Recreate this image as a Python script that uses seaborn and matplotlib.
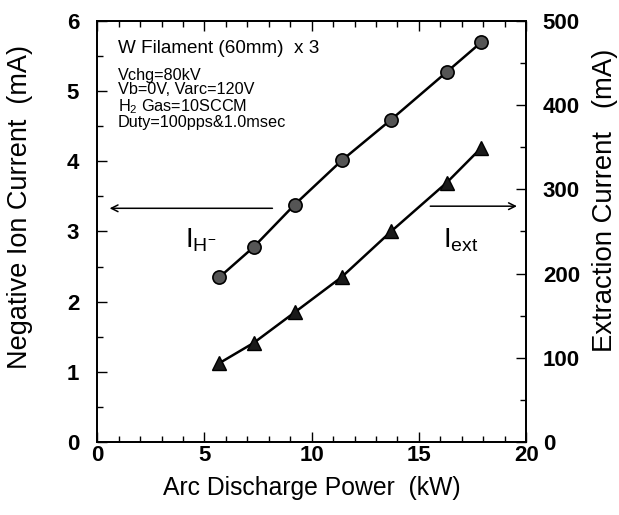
import seaborn as sns
import pandas as pd
import matplotlib.pyplot as plt
from matplotlib.ticker import MultipleLocator

# arc discharge power (kW)
power = [5.7, 7.3, 9.2, 11.4, 13.7, 16.3, 17.9]
# negative ion current I_H- (mA), left axis
ion_current = [2.35, 2.78, 3.38, 4.01, 4.59, 5.27, 5.69]
# extraction current I_ext (mA), right axis
ext_current = [94, 118, 154, 196, 250, 308, 349]

df = pd.DataFrame({'power': power, 'ion': ion_current, 'ext': ext_current})

sns.set_theme(style='ticks')
plt.rcParams['font.family'] = ['Liberation Sans', 'DejaVu Sans']
plt.rcParams['mathtext.fontset'] = 'custom'
plt.rcParams['mathtext.rm'] = 'Liberation Sans'
plt.rcParams['mathtext.it'] = 'Liberation Sans'
for k in ['text.color', 'axes.labelcolor', 'xtick.color', 'ytick.color', 'axes.edgecolor']:
    plt.rcParams[k] = 'black'

fig = plt.figure(figsize=(6.19, 5.15), dpi=100)
ax = fig.add_axes([0.157, 0.141, 0.693, 0.819])
ax2 = ax.twinx()

sns.lineplot(x='power', y='ion', data=df, ax=ax, color='black', lw=1.8,
             marker='o', markersize=9.5, markerfacecolor='#555555',
             markeredgecolor='black', markeredgewidth=1.2)
sns.lineplot(x='power', y='ext', data=df, ax=ax2, color='black', lw=1.8,
             marker='^', markersize=10.5, markerfacecolor='#1a1a1a',
             markeredgecolor='black', markeredgewidth=1)

ax.set_xlim(0, 20)
ax.set_ylim(0, 6)
ax2.set_ylim(0, 500)
ax.xaxis.set_major_locator(MultipleLocator(5))
ax.xaxis.set_minor_locator(MultipleLocator(1))
ax.yaxis.set_major_locator(MultipleLocator(1))
ax.yaxis.set_minor_locator(MultipleLocator(0.5))
ax2.yaxis.set_major_locator(MultipleLocator(100))
ax2.yaxis.set_minor_locator(MultipleLocator(50))

ax.tick_params(axis='x', which='both', direction='in', top=True, labelsize=16, pad=2)
ax.tick_params(axis='y', which='both', direction='in', right=False, labelsize=16, pad=13)
ax2.tick_params(axis='y', which='both', direction='in', labelsize=16, pad=12)
for a in (ax, ax2):
    a.tick_params(which='major', length=7, width=1)
    a.tick_params(which='minor', length=4, width=1)
    for lbl in a.get_xticklabels() + a.get_yticklabels():
        lbl.set_fontweight('bold')
    for s in a.spines.values():
        s.set_visible(True)
        s.set_linewidth(1.3)

ax.set_xlabel('Arc Discharge Power  (kW)', fontsize=17.8, labelpad=7)
ax.set_ylabel('Negative Ion Current  (mA)', fontsize=19.5)
ax2.set_ylabel('Extraction Current   (mA)', fontsize=19.8)
ax.yaxis.set_label_coords(-0.149, 0.558)
ax2.yaxis.set_label_coords(1.153, 0.573)

ax.text(0.95, 5.61, 'W Filament (60mm)  x 3', fontsize=13.6, va='center')
ax.text(0.95, 5.33, 'Vchg=80kV\nVb=0V, Varc=120V\nH$_2$ Gas=10SCCM\nDuty=100pps&1.0msec',
        fontsize=11.7, va='top', linespacing=0.97)

ax.annotate('', xy=(0.45, 3.33), xytext=(8.3, 3.33),
            arrowprops=dict(arrowstyle='->', color='black', lw=1.1))
ax.annotate('', xy=(19.7, 3.36), xytext=(15.4, 3.36),
            arrowprops=dict(arrowstyle='->', color='black', lw=1.1))
ax.text(4.1, 2.88, r'I$_{\mathregular{H^{-}}}$', fontsize=20, va='center')
ax.text(16.1, 2.88, r'I$_{\mathregular{ext}}$', fontsize=20, va='center')

fig.savefig('out.png', dpi=100)
